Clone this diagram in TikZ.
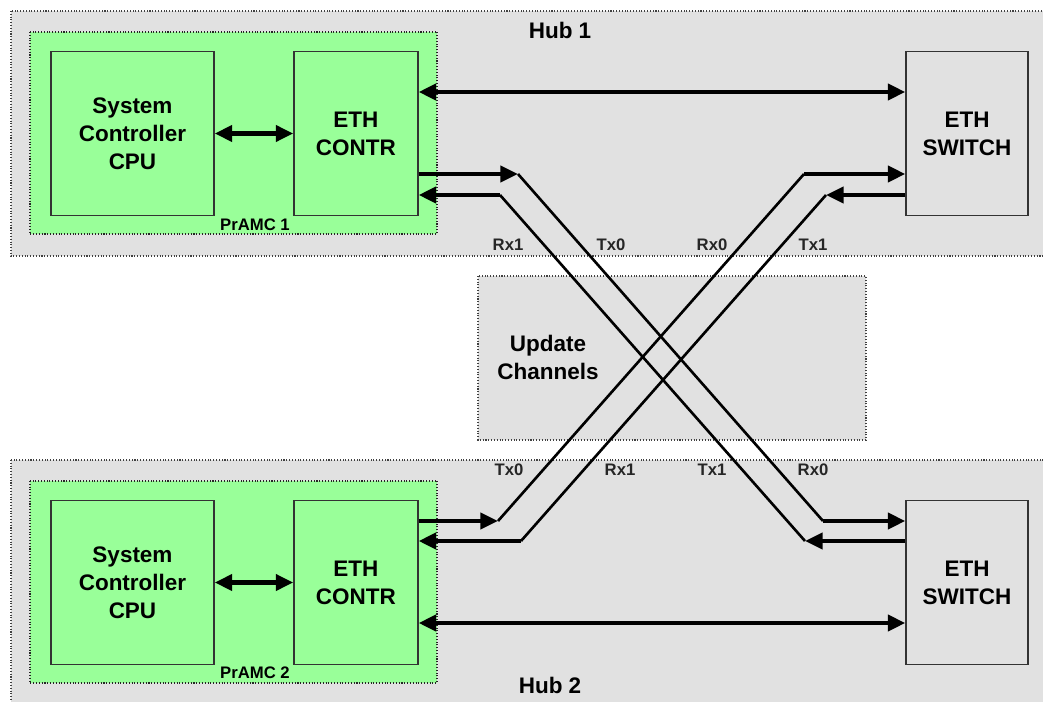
\documentclass[tikz,border=0pt]{standalone}
\usepackage{fontspec}
\setmainfont{Liberation Sans}
\usepackage{tikz}
\usetikzlibrary{shapes, arrows.meta, positioning}
\definecolor{hubgray}{HTML}{E1E1E1}
\definecolor{amcgreen}{HTML}{99FF99}
\tikzstyle{hub} = [draw=black!75, densely dotted, line width=0.6pt, fill=hubgray]
\tikzstyle{amc} = [draw=black!85, densely dotted, line width=0.6pt, fill=amcgreen]
\tikzstyle{block} = [draw=black!80, line width=0.7pt, rectangle, align=center, font=\bigfont]
\tikzstyle{bus} = [line width=2.6pt]
\tikzstyle{wire} = [line width=1.5pt]
\tikzstyle{pin} = [font=\smallfont, text=black!85]
\newcommand{\bigfont}{\bfseries\fontsize{12.8}{15.9}\selectfont}
\newcommand{\smallfont}{\bfseries\fontsize{9.5}{11}\selectfont}

\begin{document}
\begin{tikzpicture}[x=0.02cm, y=-0.02cm, >={Triangle[length=10pt, width=9pt]}]
  \useasboundingbox (0,0) rectangle (1043,702);
  % hubs and update channels
  \begin{scope}
    \clip (0,0) rectangle (1043,702);
    \draw[hub] (11,11) rectangle (1060,256);
    \draw[hub] (11,460) rectangle (1060,720);
  \end{scope}
  \draw[hub] (478,276) rectangle (866,440);
  \draw[amc] (30,32) rectangle (437,234);
  \draw[amc] (30,481) rectangle (437,683);
  \node[font=\bigfont] (hub1) at (560,30) {Hub 1};
  \node[font=\bigfont] (hub2) at (550,685) {Hub 2};
  \node[font=\bigfont, align=center] (upd) at (548,357) {Update\\Channels};
  \node[font=\smallfont] (amc1) at (255,225) {PrAMC 1};
  \node[font=\smallfont] (amc2) at (255,673) {PrAMC 2};

  % hub 1
  \node[block, fill=amcgreen, minimum width=3.26cm, minimum height=3.28cm] (cpu1) at (132.5,133.5) {System\\Controller\\CPU};
  \node[block, fill=amcgreen, minimum width=2.48cm, minimum height=3.28cm, right of=cpu1, node distance=4.47cm] (contr1) {ETH\\CONTR};
  \node[block, fill=hubgray, minimum width=2.44cm, minimum height=3.28cm] (sw1) at (967,133.5) {ETH\\SWITCH};
  % hub 2
  \node[block, fill=amcgreen, minimum width=3.26cm, minimum height=3.28cm] (cpu2) at (132.5,582.5) {System\\Controller\\CPU};
  \node[block, fill=amcgreen, minimum width=2.48cm, minimum height=3.28cm, right of=cpu2, node distance=4.47cm] (contr2) {ETH\\CONTR};
  \node[block, fill=hubgray, minimum width=2.44cm, minimum height=3.28cm] (sw2) at (967,582.5) {ETH\\SWITCH};

  \draw[bus, <->] (cpu1) -- (contr1);
  \draw[bus, <->] (cpu2) -- (contr2);
  \draw[bus, <->] (contr1.east |- 0,92) -- (sw1.west |- 0,92);
  \draw[bus, <->] (contr2.east |- 0,623) -- (sw2.west |- 0,623);

  % update channels
  \coordinate (a1) at (518,174);
  \coordinate (a2) at (823,521);
  \coordinate (b1) at (500,195);
  \coordinate (b2) at (805,541);
  \coordinate (c1) at (804,174);
  \coordinate (c2) at (498,521);
  \coordinate (d1) at (826,195);
  \coordinate (d2) at (521,541);
  \draw[bus, ->] (contr1.east |- a1) -- (a1);
  \draw[wire] (a1) -- (a2);
  \draw[bus, ->] (a2) -- (sw2.west |- a2);
  \draw[bus, ->] (b1) -- (contr1.east |- b1);
  \draw[wire] (b1) -- (b2);
  \draw[bus, ->] (sw2.west |- b2) -- (b2);
  \draw[bus, ->] (c1) -- (sw1.west |- c1);
  \draw[wire] (c1) -- (c2);
  \draw[bus, ->] (contr2.east |- c2) -- (c2);
  \draw[bus, ->] (sw1.west |- d1) -- (d1);
  \draw[wire] (d1) -- (d2);
  \draw[bus, ->] (d2) -- (contr2.east |- d2);

  \node[pin] (rx1a) at (508,245) {Rx1};
  \node[pin] (tx0a) at (611,245) {Tx0};
  \node[pin] (rx0a) at (712,245) {Rx0};
  \node[pin] (tx1a) at (813,245) {Tx1};
  \node[pin] (tx0b) at (509,470) {Tx0};
  \node[pin] (rx1b) at (620,470) {Rx1};
  \node[pin] (tx1b) at (712,470) {Tx1};
  \node[pin] (rx0b) at (813,470) {Rx0};
\end{tikzpicture}
\end{document}
